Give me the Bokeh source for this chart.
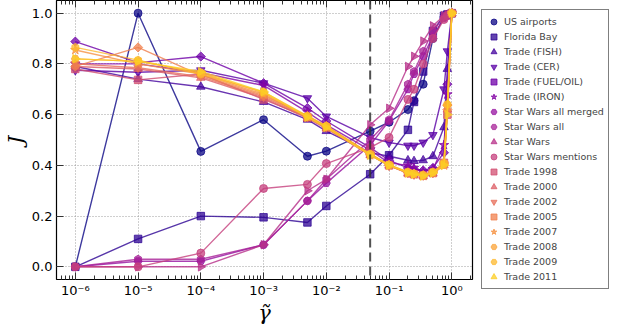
import numpy as np
from bokeh.plotting import figure
from bokeh.models import (LogAxis, FixedTicker, CustomJSTickFormatter,
                          PrintfTickFormatter, Span, Legend, LegendItem)
from bokeh.palettes import Plasma256
from bokeh.embed import file_html
from bokeh.resources import INLINE

# ---------------- data ----------------
gamma = [1e-6, 1e-5, 1e-4, 1e-3, 5e-3, 1e-2, 0.05, 0.1, 0.2, 0.25, 0.35, 0.5, 0.75, 0.85, 1.0]

us_airports = [0.0, 1.0, 0.455, 0.58, 0.436, 0.456, 0.535, 0.57, 0.62, 0.655, 0.72, 0.90, 0.985, 0.995, 1.0]
florida_bay = [0.0, 0.11, 0.20, 0.195, 0.175, 0.24, 0.365, 0.44, 0.54, 0.65, 0.77, 0.93, 0.99, 0.995, 1.0]
trade_fish = [0.79, 0.74, 0.71, 0.65, 0.58, 0.535, 0.45, 0.436, 0.42, 0.417, 0.42, 0.436, 0.55, 0.78, 1.0]
trade_cer = [0.775, 0.767, 0.775, 0.724, 0.665, 0.593, 0.51, 0.49, 0.478, 0.478, 0.49, 0.52, 0.70, 0.85, 1.0]
trade_fuel = [0.888, 0.805, 0.829, 0.724, 0.626, 0.575, 0.47, 0.42, 0.39, 0.385, 0.38, 0.39, 0.45, 0.72, 1.0]
trade_iron = [0.80, 0.80, 0.765, 0.715, 0.61, 0.56, 0.46, 0.41, 0.40, 0.39, 0.375, 0.385, 0.48, 0.68, 1.0]
sw_all_merged = [0.0, 0.022, 0.022, 0.087, 0.26, 0.33, 0.48, 0.575, 0.70, 0.76, 0.83, 0.91, 0.98, 0.99, 1.0]
sw_all = [0.0, 0.03, 0.03, 0.087, 0.26, 0.345, 0.50, 0.58, 0.72, 0.77, 0.85, 0.93, 0.985, 0.995, 1.0]
star_wars = [0.0, 0.0, 0.0, 0.087, 0.30, 0.345, 0.56, 0.625, 0.79, 0.83, 0.89, 0.95, 0.99, 0.995, 1.0]
sw_mentions = [0.0, 0.0, 0.054, 0.309, 0.325, 0.407, 0.47, 0.51, 0.66, 0.70, 0.80, 0.90, 0.975, 0.99, 1.0]
trade_1998 = [0.78, 0.737, 0.76, 0.66, 0.59, 0.55, 0.445, 0.40, 0.37, 0.365, 0.36, 0.37, 0.41, 0.60, 1.0]
trade_2000 = [0.79, 0.78, 0.745, 0.665, 0.585, 0.545, 0.44, 0.40, 0.368, 0.362, 0.358, 0.368, 0.40, 0.62, 1.0]
trade_2002 = [0.80, 0.785, 0.75, 0.67, 0.59, 0.55, 0.443, 0.398, 0.37, 0.364, 0.36, 0.37, 0.405, 0.63, 1.0]
trade_2005 = [0.79, 0.865, 0.755, 0.675, 0.595, 0.555, 0.445, 0.40, 0.372, 0.366, 0.362, 0.372, 0.41, 0.62, 1.0]
trade_2007 = [0.855, 0.80, 0.76, 0.68, 0.59, 0.55, 0.44, 0.40, 0.37, 0.365, 0.358, 0.37, 0.40, 0.63, 1.0]
trade_2008 = [0.82, 0.81, 0.765, 0.685, 0.592, 0.553, 0.442, 0.402, 0.372, 0.366, 0.36, 0.372, 0.405, 0.64, 1.0]
trade_2009 = [0.865, 0.815, 0.76, 0.69, 0.595, 0.556, 0.445, 0.403, 0.374, 0.368, 0.362, 0.374, 0.41, 0.64, 1.0]
trade_2011 = [0.82, 0.81, 0.77, 0.69, 0.59, 0.55, 0.44, 0.40, 0.37, 0.365, 0.358, 0.37, 0.40, 0.60, 1.0]

names = ["US airports", "Florida Bay", "Trade (FISH)", "Trade (CER)", "Trade (FUEL/OIL)",
         "Trade (IRON)", "Star Wars all merged", "Star Wars all", "Star Wars",
         "Star Wars mentions", "Trade 1998", "Trade 2000", "Trade 2002", "Trade 2005",
         "Trade 2007", "Trade 2008", "Trade 2009", "Trade 2011"]
series = [us_airports, florida_bay, trade_fish, trade_cer, trade_fuel, trade_iron,
          sw_all_merged, sw_all, star_wars, sw_mentions, trade_1998, trade_2000,
          trade_2002, trade_2005, trade_2007, trade_2008, trade_2009, trade_2011]

x_ticks = [1e-6, 1e-5, 1e-4, 1e-3, 1e-2, 1e-1, 1.0]
y_ticks = [0.0, 0.2, 0.4, 0.6, 0.8, 1.0]
gamma_star = 0.05

# marker cycle (o s ^ v D * p h >)
marker_cycle = [("circle", 0.0, 8), ("square", 0.0, 7.5), ("triangle", 0.0, 8.5),
                ("inverted_triangle", 0.0, 8.5), ("square", np.pi / 4, 6.5),
                ("star", 0.0, 10), ("hex", 0.0, 8), ("hex", np.pi / 2, 8),
                ("triangle", -np.pi / 2, 8.5)]

n = len(series)
colors = [Plasma256[int(round(i / (n - 1) * 0.9 * 255))] for i in range(n)]

# ---------------- figure ----------------
FW, FH = 416, 279
p = figure(frame_width=FW, frame_height=FH, x_axis_type="log",
           x_range=(10 ** -6.3, 10 ** 0.33), y_range=(-0.05, 1.05),
           output_backend="svg", toolbar_location=None,
           min_border_left=0, min_border_top=0, min_border_right=0, min_border_bottom=0)
p.outline_line_color = "black"
p.outline_line_width = 1.2
p.background_fill_color = "white"
p.border_fill_color = "white"

sup = "{'-':'\u207b','0':'\u2070','1':'\u00b9','2':'\u00b2','3':'\u00b3','4':'\u2074','5':'\u2075','6':'\u2076','7':'\u2077','8':'\u2078','9':'\u2079'}"
log_fmt = CustomJSTickFormatter(code="""
const e = Math.round(Math.log10(tick));
const s = %s;
return '10' + String(e).split('').map(c => s[c]).join('');
""" % sup)
minor = [k * 10.0 ** e for e in range(-7, 1) for k in range(2, 10)]
xt = FixedTicker(ticks=x_ticks, minor_ticks=minor)
yt = FixedTicker(ticks=y_ticks, minor_ticks=[])

xa = p.xaxis[0]
xa.ticker = xt
xa.formatter = log_fmt
ya = p.yaxis[0]
ya.ticker = yt
ya.formatter = PrintfTickFormatter(format="%.1f")

for ax in (xa, ya):
    ax.axis_line_color = None
    ax.major_tick_in = 7
    ax.major_tick_out = 0
    ax.minor_tick_in = 4
    ax.minor_tick_out = 0
    ax.major_tick_line_color = "#333333"
    ax.minor_tick_line_color = "#333333"
    ax.major_label_text_font = "DejaVu Sans"
    ax.major_label_text_font_size = "13px"
    ax.major_label_text_color = "black"
    ax.major_label_standoff = 4
    ax.axis_label_text_font = "DejaVu Serif"
    ax.axis_label_text_font_style = "italic"
    ax.axis_label_text_font_size = "21px"
    ax.axis_label_text_color = "black"

xa.axis_label = "\u03b3\u0303"
xa.axis_label_standoff = 0
xa.major_label_standoff = 3
ya.axis_label = "J"
ya.axis_label_standoff = 1

empty_fmt = CustomJSTickFormatter(code="return '';")
top = LogAxis(ticker=xt, formatter=empty_fmt, axis_line_color=None,
              major_tick_in=7, major_tick_out=0, minor_tick_in=4, minor_tick_out=0,
              major_label_standoff=0, major_tick_line_color="#333333",
              minor_tick_line_color="#333333", major_label_text_font_size="1px")
p.add_layout(top, "above")

p.xgrid.ticker = xt
p.ygrid.ticker = yt
for g in (p.xgrid[0], p.ygrid[0]):
    g.grid_line_color = "#888888"
    g.grid_line_dash = "1 2"
    g.grid_line_alpha = 0.8
    g.grid_line_width = 1

p.add_layout(Span(location=gamma_star, dimension="height", line_color="#333333",
                  line_dash="9 5", line_width=2, line_alpha=0.85))

items = []
for i, (name, ys) in enumerate(zip(names, series)):
    mk, ang, sz = marker_cycle[i % len(marker_cycle)]
    c = colors[i]
    p.line(gamma, ys, line_color=c, line_width=1.4, line_alpha=0.8)
    r = p.scatter(gamma, ys, marker=mk, angle=ang, size=sz, fill_color=c,
                  line_color=c, fill_alpha=0.75, line_alpha=0.75)
    items.append(LegendItem(label=name, renderers=[r]))

legend = Legend(items=items, location="top_left",
                label_text_font="DejaVu Sans", label_text_font_size="9.5px",
                label_height=15, glyph_height=15, glyph_width=15, spacing=0,
                padding=4, margin=9, label_standoff=3,
                border_line_color="black", border_line_width=1,
                background_fill_color="white", background_fill_alpha=1.0)
p.add_layout(legend, "right")

open("out.html", "w").write(file_html(p, INLINE))
